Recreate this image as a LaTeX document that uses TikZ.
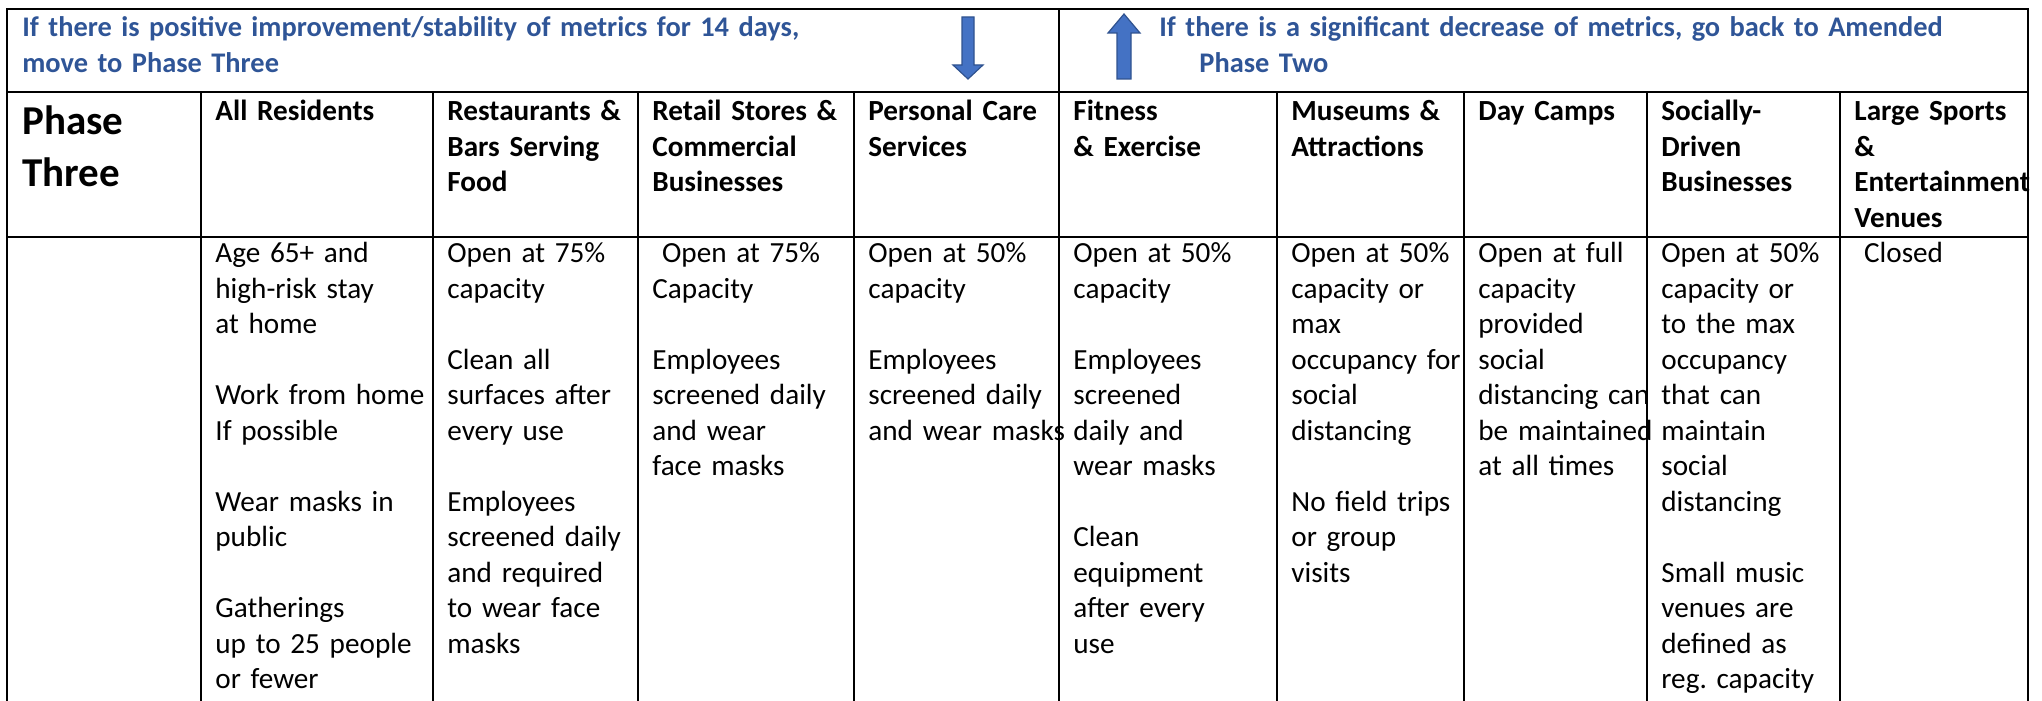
\documentclass[tikz,border=0pt]{standalone}
\usepackage{fontspec}
\setmainfont{Carlito}
\usepackage{tikz}
\frenchspacing

\definecolor{noteblue}{HTML}{2F5597}
\definecolor{arrowfill}{HTML}{4472C4}
\definecolor{arrowedge}{HTML}{2F528F}

\tikzset{
  rule/.style={line width=1.1pt},
  txt/.style={anchor=base west, inner sep=0pt, align=left, text width=140pt,
    font=\fontsize{14.6}{17.75}\selectfont},
  head/.style={txt, font=\fontsize{14.6}{17.75}\selectfont\bfseries},
  note/.style={txt, text width=480pt, text=noteblue,
    font=\fontsize{14.2}{18}\selectfont\bfseries},
  bigarrow/.style={fill=arrowfill, draw=arrowedge, line width=0.6pt, line join=miter}
}

\begin{document}
\begin{tikzpicture}[x=0.5pt, y=-0.5pt]
    \useasboundingbox (0,0) rectangle (2042,701);

    % banner
    \node (fwdnote) at (22,37) [note] {If there is positive improvement/stability of metrics for 14 days,\\move to Phase Three};
    \node (backnote) at (1159,37) [note] {If there is a significant decrease of metrics, go back to Amended\\\hspace*{20pt}Phase Two};
    \draw [bigarrow] (962,17) -- (974,17) -- (974,65) -- (983,65) -- (968,79) -- (953,65) -- (962,65) -- cycle;
    \draw [bigarrow] (1117,79) -- (1131,79) -- (1131,33) -- (1140,33) -- (1124,14) -- (1108,33) -- (1117,33) -- cycle;

    % header row
    \node (phase) at (22,134) [txt, font=\fontsize{20.5}{26}\selectfont\bfseries] {Phase\\Three};
    \node (h-res) at (215,121) [head] {All Residents};
    \node (h-food) at (447,121) [head] {Restaurants \&\\Bars Serving\\Food};
    \node (h-retail) at (652,121) [head] {Retail Stores \&\\Commercial\\Businesses};
    \node (h-care) at (868,121) [head] {Personal Care\\Services};
    \node (h-fit) at (1073,121) [head] {Fitness\\\& Exercise};
    \node (h-mus) at (1291,121) [head] {Museums \&\\Attractions};
    \node (h-camp) at (1478,121) [head] {Day Camps};
    \node (h-social) at (1661,121) [head] {Socially-\\Driven\\Businesses};
    \node (h-sports) at (1854,121) [head] {Large Sports\\\&\\Entertainment\\Venues};

    % body row
    \node (b-res) at (215,263) [txt] {Age 65+ and\\high-risk stay\\at home\\~\\Work from home\\If possible\\~\\Wear masks in\\public\\~\\Gatherings\\up to 25 people\\or fewer};
    \node (b-food) at (447,263) [txt] {Open at 75\%\\capacity\\~\\Clean all\\surfaces after\\every use\\~\\Employees\\screened daily\\and required\\to wear face\\masks};
    \node (b-retail) at (652,263) [txt] {\ Open at 75\%\\Capacity\\~\\Employees\\screened daily\\and wear\\face masks};
    \node (b-care) at (868,263) [txt] {Open at 50\%\\capacity\\~\\Employees\\screened daily\\and wear masks};
    \node (b-fit) at (1073,263) [txt] {Open at 50\%\\capacity\\~\\Employees\\screened\\daily and\\wear masks\\~\\Clean\\equipment\\after every\\use};
    \node (b-mus) at (1291,263) [txt] {Open at 50\%\\capacity or\\max\\occupancy for\\social\\distancing\\~\\No field trips\\or group\\visits};
    \node (b-camp) at (1478,263) [txt] {Open at full\\capacity\\provided\\social\\distancing can\\be maintained\\at all times};
    \node (b-social) at (1661,263) [txt] {Open at 50\%\\capacity or\\to the max\\occupancy\\that can\\maintain\\social\\distancing\\~\\Small music\\venues are\\defined as\\reg. capacity};
    \node (b-sports) at (1854,263) [txt] {\ Closed};

    % table rules
    \draw [rule] (7,701) -- (7,9) -- (2028,9) -- (2028,701);
    \draw [rule] (7,92) -- (2028,92);
    \draw [rule] (7,237) -- (2028,237);
    \draw [rule] (1059,9) -- (1059,92);
    \foreach \cx in {201,433,638,854,1059,1277,1464,1647,1840}
        \draw [rule] (\cx,92) -- (\cx,701);
\end{tikzpicture}
\end{document}
